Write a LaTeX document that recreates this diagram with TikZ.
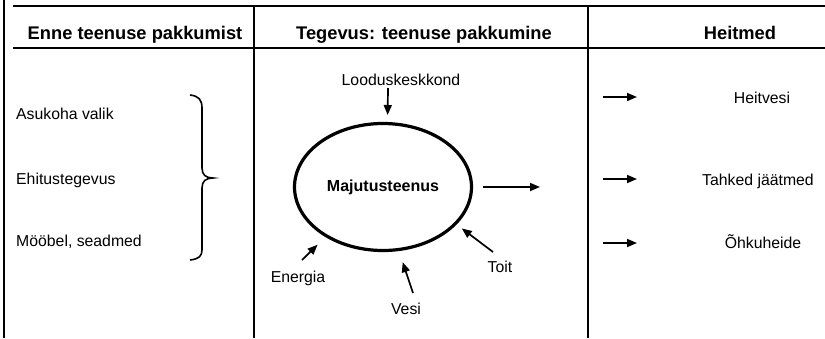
\documentclass[tikz,border=0pt]{standalone}
\usepackage{fontspec}
\setmainfont{Liberation Sans}
\usetikzlibrary{shapes.geometric,arrows.meta}

\begin{document}
\begin{tikzpicture}[x=1pt, y=-1pt,
		hdr/.style={font=\fontsize{18.3}{22}\selectfont\bfseries, inner sep=0pt, anchor=base},
		txt/.style={font=\fontsize{15.8}{18}\selectfont, inner sep=0pt, anchor=base},
		tline/.style={line width=1.8pt},
		arr/.style={line width=1.7pt, -{Triangle[length=10pt,width=8pt]}}]
	\useasboundingbox (0,0) rectangle (825,338);
	% table
	\draw[line width=2.6pt] (4,0) -- (4,338);
	\draw[tline] (13,6) -- (825,6);
	\draw[tline] (13,48) -- (825,48);
	\draw[tline] (254,6) -- (254,338);
	\draw[tline] (588,6) -- (588,338);
	\node[hdr] (enne) at (135,39) {Enne teenuse pakkumist};
	\node[hdr] (tegevus) at (424,39) {Tegevus: teenuse pakkumine};
	\node[hdr] (heitmed) at (740,39) {Heitmed};
	% enne
	\node[txt, anchor=base west] (asukoht) at (16,119) {Asukoha valik};
	\node[txt, anchor=base west] (ehitus) at (16,184) {Ehitustegevus};
	\node[txt, anchor=base west] (mooobel) at (16,246) {Mööbel, seadmed};
	\draw[line width=1.6pt] (190,95) .. controls (199,96) and (202,100) .. (202,108)
		-- (202,168) .. controls (202,175) and (206,178) .. (213,178)
		.. controls (206,178) and (202,181) .. (202,188)
		-- (202,250) .. controls (202,256) and (199,259) .. (190,260);
	% tegevus
	\node[ellipse, draw, line width=3.2pt, minimum width=177pt, minimum height=127pt,
		inner sep=0pt, font=\fontsize{16}{19}\selectfont\bfseries] (maj) at (383,187) {Majutusteenus};
	\node[txt] (lood) at (401,85) {Looduskeskkond};
	\node[txt] (energia) at (298,282.5) {Energia};
	\node[txt] (vesi) at (406,314) {Vesi};
	\node[txt] (toit) at (500,272.5) {Toit};
	\coordinate (lood-in) at (388,88);
	\coordinate (energia-in) at (302,260);
	\coordinate (vesi-in) at (413,293);
	\coordinate (toit-in) at (493,252);
	\coordinate (maj-out) at (540,187);
	\draw[arr, shorten >=7pt] (lood-in) -- (maj.86);
	\draw[arr, shorten >=11pt] (energia-in) -- (maj.221);
	\draw[arr, shorten >=11.7pt] (vesi-in) -- (maj.284);
	\draw[arr, shorten >=6.5pt] (toit-in) -- (maj.333);
	\draw[arr, shorten <=10pt] (maj.east) -- (maj-out);
	% heitmed
	\coordinate (heit1) at (603,97);
	\coordinate (heit2) at (603,179);
	\coordinate (heit3) at (603,243);
	\draw[arr] (heit1) -- ++(34,0);
	\draw[arr] (heit2) -- ++(34,0);
	\draw[arr] (heit3) -- ++(34,0);
	\node[txt] (heitvesi) at (762,103) {Heitvesi};
	\node[txt] (jaatmed) at (758,185) {Tahked jäätmed};
	\node[txt] (ohk) at (763,248) {Õhkuheide};
\end{tikzpicture}
\end{document}
